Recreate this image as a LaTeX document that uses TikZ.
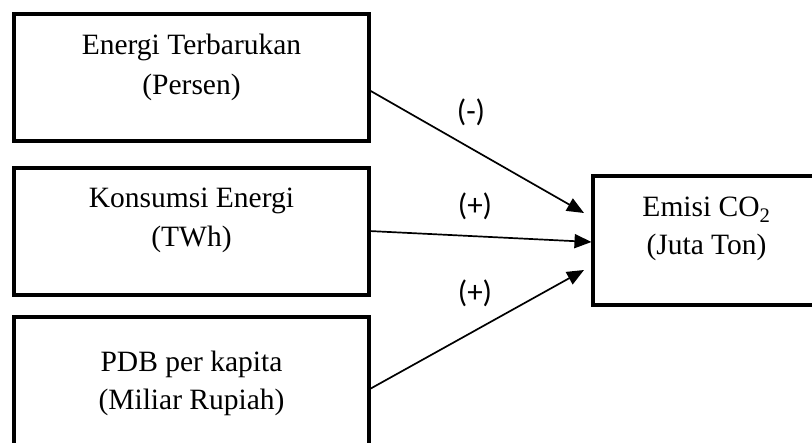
\documentclass[tikz,border=0pt]{standalone}
\usepackage{fontspec}
\setmainfont{Liberation Serif}
\newfontfamily\labfont{Carlito}
\usetikzlibrary{arrows.meta}
\begin{document}
\begin{tikzpicture}[x=1pt,y=-1pt,
  varbox/.style={draw,line width=4.5pt,rectangle,inner sep=0pt,outer sep=0pt},
  boxtext/.style={anchor=base,inner sep=0pt,font=\fontsize{29.5}{35}\selectfont},
  signlab/.style={inner sep=0pt,font=\labfont\fontsize{31}{36}\selectfont},
  arr/.style={line width=1.7pt,-{Triangle[length=17pt,width=14pt]}}]
\useasboundingbox (0,0) rectangle (812,443);
\clip (0,0) rectangle (812,443);
% boxes
\node[varbox,minimum width=355pt,minimum height=127pt] (b1) at (191.5,77.5) {};
\node[varbox,minimum width=355pt,minimum height=127pt] (b2) at (191.5,231.5) {};
\node[varbox,minimum width=355pt,minimum height=130pt] (b3) at (191.5,382) {};
\node[varbox,minimum width=227pt,minimum height=129pt] (b4) at (706.5,240.5) {};
% texts
\node[boxtext] (t1a) at (191.5,54.5) {Energi Terbarukan};
\node[boxtext] (t1b) at (191.5,94.5) {(Persen)};
\node[boxtext] (t2a) at (191.5,208) {Konsumsi Energi};
\node[boxtext] (t2b) at (191.5,247) {(TWh)};
\node[boxtext] (t3a) at (191.5,372) {PDB per kapita};
\node[boxtext] (t3b) at (191.5,410) {(Miliar Rupiah)};
\node[boxtext] (t4a) at (706.5,217) {Emisi CO\textsubscript{2}};
\node[boxtext] (t4b) at (706.5,255) {(Juta Ton)};
% connector end points
\coordinate (s1) at (369,90);
\coordinate (s2) at (369,231);
\coordinate (s3) at (369,389.5);
\coordinate (e1) at (584,213);
\coordinate (e2) at (591.5,242);
\coordinate (e3) at (584,270);
\draw[arr] (s1) -- (e1);
\draw[arr] (s2) -- (e2);
\draw[arr] (s3) -- (e3);
% sign labels
\node[signlab] (l1) at (471,112) {(-)};
\node[signlab] (l2) at (475,206) {(+)};
\node[signlab] (l3) at (475,293) {(+)};
\end{tikzpicture}
\end{document}
